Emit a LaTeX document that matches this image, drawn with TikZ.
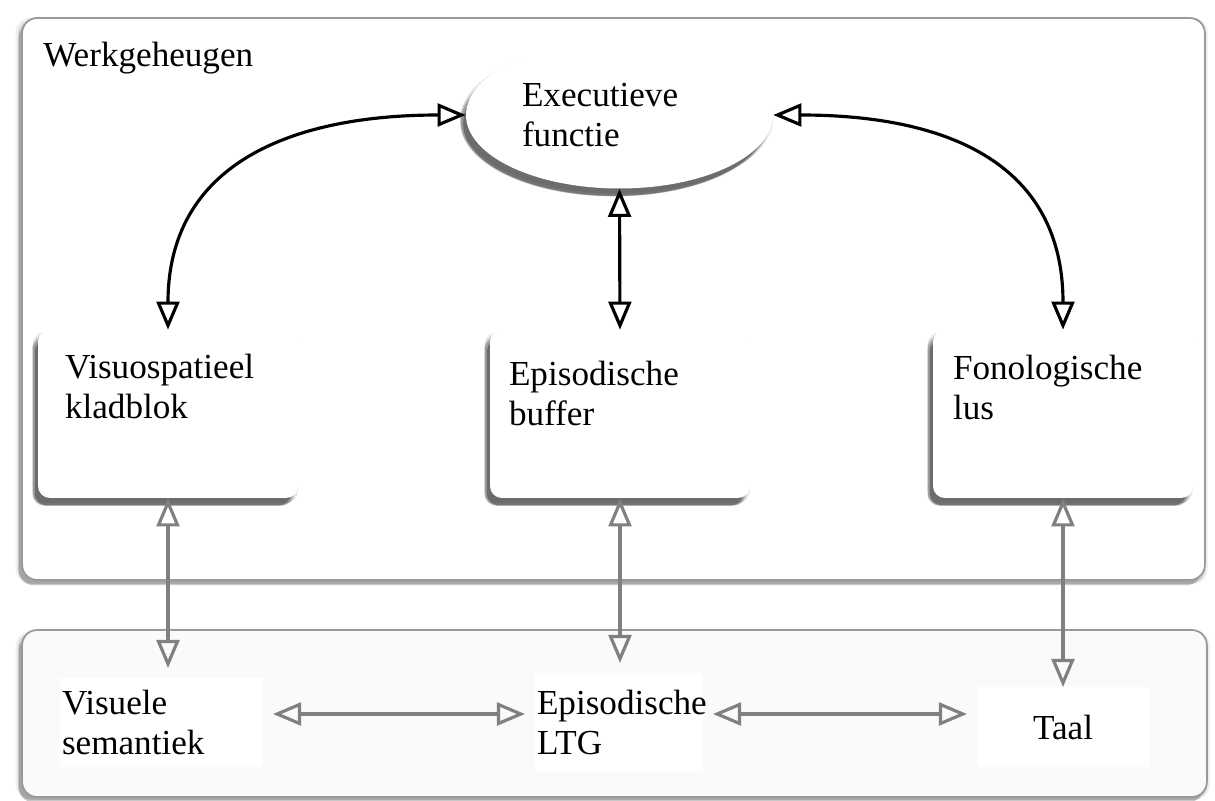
\documentclass[tikz,border=0pt]{standalone}
\usepackage{fontspec}
\setmainfont{Liberation Serif}
\usetikzlibrary{positioning, arrows.meta, shapes.geometric, shadows}

\tikzset{
  softshadow/.style={
    general shadow={shadow xshift=-1.5pt, shadow yshift=-2pt, shadow scale=1.02, fill=black, opacity=.08},
    general shadow={shadow xshift=-2.5pt, shadow yshift=-3.5pt, shadow scale=1.01, fill=black, opacity=.15},
    general shadow={shadow xshift=-3pt, shadow yshift=-4.5pt, fill=black, opacity=.22},
    general shadow={shadow xshift=-3pt, shadow yshift=-5pt, shadow scale=.985, fill=black, opacity=.30}},
  frame/.style={draw=black!40, line width=1pt, rounded corners=0.3cm, inner sep=0pt,
    general shadow={shadow xshift=-1pt, shadow yshift=-1pt, shadow scale=1.008, fill=black, opacity=.06},
    general shadow={shadow xshift=-1pt, shadow yshift=-1.5pt, shadow scale=1.004, fill=black, opacity=.12},
    general shadow={shadow xshift=-2pt, shadow yshift=-3pt, fill=black, opacity=.22}},
  wmbox/.style={fill=white, rounded corners=0.24cm, minimum width=5.2cm, minimum height=3.36cm, inner sep=0pt, softshadow},
  boxtext/.style={anchor=north west, inner sep=0pt, align=left},
  ltmtext/.style={fill=white, inner xsep=0.04cm, inner ysep=0pt, outer sep=0.2cm, align=left},
  blackarrow/.style={draw=black, line width=1.8pt, {Triangle[open, length=16pt, width=13pt]}-{Triangle[open, length=16pt, width=13pt]}},
  grayarrow/.style={draw=black!50, line width=1.8pt, {Triangle[open, length=16pt, width=13pt]}-{Triangle[open, length=16pt, width=13pt]}}
}

\begin{document}
\begin{tikzpicture}[x=0.02cm, y=-0.02cm, font=\fontsize{20}{22.8}\selectfont]
  \useasboundingbox (0,0) rectangle (1215,801);

  % Frames
  \node[frame, fill=white, minimum width=23.66cm, minimum height=11.24cm] (wm) at (613.5,299) {};
  \node[frame, fill=black!2, minimum width=23.7cm, minimum height=3.34cm] (ltm) at (614.5,713.5) {};
  \node[boxtext] (wmlabel) at (43,42) {Werkgeheugen};

  % Working memory
  \node[ellipse, fill=white, minimum width=6.14cm, minimum height=2.94cm, text width=3.9cm, align=left, inner sep=0pt, softshadow] (exec) at (619.5,115) {Executieve\\functie};
  \node[wmbox] (visuo) at (168,414) {};
  \node[wmbox] (buffer) at (620,414) {};
  \node[wmbox] (fono) at (1063,414) {};
  \node[boxtext] (visuotext) at ([shift={(27,24)}]visuo.north west) {Visuospatieel\\kladblok};
  \node[boxtext] (buffertext) at ([shift={(19,31)}]buffer.north west) {Episodische\\buffer};
  \node[boxtext] (fonotext) at ([shift={(20,25)}]fono.north west) {Fonologische\\lus};

  % Long-term memory
  \node[ltmtext, text width=3.98cm, minimum height=1.78cm] (vissem) at (161.5,722.5) {Visuele\\semantiek};
  \node[ltmtext, text width=3.28cm, minimum height=1.98cm] (ltg) at (619,722.5) {Episodische\\LTG};
  \node[ltmtext, align=center, minimum width=3.44cm, minimum height=1.6cm, outer ysep=0pt] (taal) at (1063,727) {Taal};

  % Arrows
  \draw[blackarrow] (exec.west) .. controls +(-176,0) and +(0,-165) .. (visuo.north);
  \draw[blackarrow] (exec.east) .. controls +(176,0) and +(0,-165) .. (fono.north);
  \draw[blackarrow] (exec.south) -- (buffer.north);

  \draw[grayarrow] (visuo.south) -- (visuo.south |- vissem.north);
  \draw[grayarrow] (buffer.south) -- (buffer.south |- ltg.north);
  \draw[grayarrow] (fono.south) -- (fono.south |- taal.north);
  \draw[grayarrow] ([yshift=0.17cm]vissem.east) -- ([yshift=0.17cm]ltg.west);
  \draw[grayarrow] ([yshift=0.17cm]ltg.east) -- ([yshift=0.17cm]ltg.east -| taal.west);
\end{tikzpicture}
\end{document}
